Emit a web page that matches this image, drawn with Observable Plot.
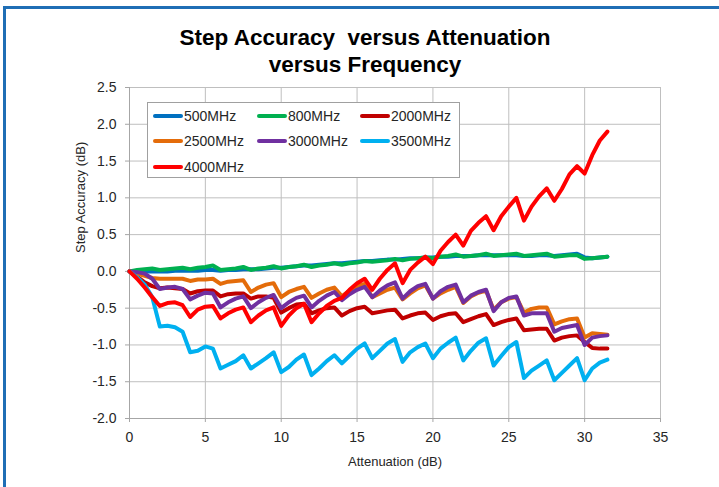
<!DOCTYPE html>
<html>
<head>
<meta charset="utf-8">
<script src="https://cdn.jsdelivr.net/npm/d3@7"></script>
<script src="https://cdn.jsdelivr.net/npm/@observablehq/plot@0.6"></script>
<style>
  html, body { margin: 0; padding: 0; background: #fff; }
  #wrap { position: relative; width: 719px; height: 487px; overflow: hidden; background: #fff;
          font-family: "Liberation Sans", Arial, sans-serif; }
  #bt { position: absolute; left: 3px; top: 6px; right: 0; height: 3px; background: #1F6EB5; }
  #bl { position: absolute; left: 3px; top: 6px; width: 3px; bottom: 0; background: #1F6EB5; }
  #title { position: absolute; left: 0; width: 730px; top: 24px; text-align: center;
           font-weight: bold; font-size: 22.5px; line-height: 27px; color: #000; white-space: pre; }
  #chart { position: absolute; left: 0; top: 0; }
  #legend { position: absolute; left: 147px; top: 102px; width: 313px; height: 76px;
            border: 1px solid #A0A0A0; background: #fff; box-sizing: border-box; }
  .item { position: absolute; height: 20px; display: flex; align-items: center;
          font-size: 14px; color: #262626; white-space: nowrap; }
  .swatch { width: 30px; height: 4px; border-radius: 2px; margin-right: 1px; }
</style>
</head>
<body>
<div id="wrap">
  <div id="bt"></div><div id="bl"></div>
  <div id="chart"></div>
  <div id="title">Step Accuracy  versus Attenuation
versus Frequency</div>
  <div id="legend"></div>
</div>
<script>
// ---- data ----
const atten = [0,0.5,1,1.5,2,2.5,3,3.5,4,4.5,5,5.5,6,6.5,7,7.5,8,8.5,9,9.5,10,10.5,11,11.5,12,12.5,13,13.5,14,14.5,15,15.5,
               16,16.5,17,17.5,18,18.5,19,19.5,20,20.5,21,21.5,22,22.5,23,23.5,24,24.5,25,25.5,26,26.5,27,27.5,28,28.5,29,29.5,30,30.5,31,31.5];
const seriesNames = ["500MHz","800MHz","2000MHz","2500MHz","3000MHz","3500MHz","4000MHz"];
const seriesColors = ["#0070C0","#00B050","#C00000","#E46C0A","#7030A0","#00B0F0","#FF0000"];

const v500 = [0,0,0,0,0,0,0.01,0.01,0.01,0.01,0.02,0.02,0.01,0.02,0.02,0.03,0.03,0.03,0.04,0.05,0.05,0.06,0.07,0.08,0.08,0.09,0.1,0.11,0.11,0.12,0.13,0.14,
              0.14,0.15,0.16,0.16,0.17,0.18,0.18,0.19,0.19,0.2,0.2,0.21,0.21,0.21,0.22,0.22,0.22,0.22,0.22,0.22,0.21,0.21,0.22,0.22,0.21,0.22,0.23,0.24,0.19,0.18,0.19,0.2];
const v800 = [0,0.02,0.03,0.04,0.02,0.03,0.04,0.05,0.03,0.05,0.06,0.08,0.02,0.03,0.04,0.06,0.02,0.04,0.05,0.07,0.04,0.06,0.07,0.09,0.06,0.08,0.09,0.11,0.09,0.11,0.12,0.14,
              0.13,0.14,0.15,0.17,0.15,0.17,0.18,0.19,0.18,0.2,0.21,0.23,0.2,0.21,0.22,0.24,0.21,0.22,0.23,0.24,0.21,0.22,0.23,0.24,0.2,0.21,0.22,0.22,0.17,0.18,0.19,0.2];
const v2000 = [0,-0.07,-0.15,-0.2,-0.23,-0.22,-0.23,-0.24,-0.3,-0.27,-0.26,-0.26,-0.34,-0.31,-0.3,-0.3,-0.37,-0.34,-0.34,-0.36,-0.56,-0.5,-0.45,-0.44,-0.57,-0.53,-0.5,-0.49,-0.6,-0.54,-0.5,-0.48,
               -0.57,-0.55,-0.53,-0.52,-0.64,-0.6,-0.57,-0.56,-0.66,-0.61,-0.58,-0.57,-0.69,-0.65,-0.61,-0.58,-0.73,-0.69,-0.66,-0.64,-0.8,-0.79,-0.78,-0.78,-0.94,-0.9,-0.88,-0.87,-0.96,-1.04,-1.05,-1.05];
const v2500 = [0,-0.03,-0.06,-0.09,-0.1,-0.1,-0.1,-0.1,-0.13,-0.11,-0.11,-0.1,-0.17,-0.14,-0.13,-0.12,-0.28,-0.22,-0.18,-0.16,-0.35,-0.28,-0.24,-0.21,-0.36,-0.3,-0.25,-0.22,-0.34,-0.26,-0.2,-0.17,
               -0.35,-0.3,-0.25,-0.22,-0.38,-0.3,-0.23,-0.19,-0.37,-0.3,-0.25,-0.21,-0.43,-0.34,-0.29,-0.26,-0.52,-0.42,-0.37,-0.35,-0.56,-0.51,-0.49,-0.49,-0.72,-0.68,-0.65,-0.64,-0.9,-0.84,-0.85,-0.86];
const v3000 = [0,-0.01,-0.03,-0.1,-0.24,-0.22,-0.21,-0.24,-0.38,-0.33,-0.29,-0.3,-0.49,-0.42,-0.37,-0.34,-0.5,-0.42,-0.36,-0.32,-0.5,-0.42,-0.36,-0.33,-0.49,-0.4,-0.33,-0.28,-0.39,-0.31,-0.25,-0.21,
               -0.35,-0.26,-0.19,-0.15,-0.37,-0.27,-0.2,-0.17,-0.37,-0.27,-0.21,-0.18,-0.42,-0.33,-0.28,-0.25,-0.54,-0.42,-0.36,-0.34,-0.6,-0.57,-0.57,-0.57,-0.82,-0.77,-0.75,-0.73,-1.0,-0.9,-0.88,-0.87];
const v3500 = [0,-0.08,-0.18,-0.35,-0.75,-0.74,-0.76,-0.82,-1.1,-1.08,-1.02,-1.05,-1.32,-1.27,-1.22,-1.14,-1.32,-1.25,-1.18,-1.1,-1.37,-1.3,-1.2,-1.13,-1.41,-1.32,-1.22,-1.14,-1.25,-1.15,-1.05,-0.98,
               -1.18,-1.08,-0.98,-0.92,-1.23,-1.1,-1.03,-0.98,-1.18,-1.05,-0.97,-0.9,-1.21,-1.08,-0.97,-0.91,-1.28,-1.15,-1.03,-0.96,-1.45,-1.35,-1.28,-1.21,-1.48,-1.38,-1.28,-1.18,-1.48,-1.32,-1.24,-1.2];
const v4000 = [0,-0.1,-0.22,-0.35,-0.47,-0.43,-0.42,-0.46,-0.62,-0.52,-0.48,-0.47,-0.64,-0.57,-0.52,-0.49,-0.69,-0.6,-0.53,-0.49,-0.74,-0.6,-0.5,-0.44,-0.69,-0.57,-0.47,-0.4,-0.36,-0.25,-0.16,-0.1,
               -0.25,-0.1,0.02,0.11,-0.16,0.02,0.12,0.2,0.1,0.28,0.4,0.5,0.35,0.55,0.66,0.75,0.56,0.75,0.88,1.0,0.69,0.88,1.02,1.13,0.96,1.12,1.32,1.43,1.33,1.58,1.78,1.9];

const xTicks = [0,5,10,15,20,25,30,35];
const yTicks = [-2,-1.5,-1,-0.5,0,0.5,1,1.5,2,2.5];
const xLabel = "Attenuation (dB)";
const yLabel = "Step Accuracy (dB)";

// ---- table ----
const seriesValues = [v500, v800, v2000, v2500, v3000, v3500, v4000];
const rows = [];
seriesNames.forEach((name, i) => {
  seriesValues[i].forEach((v, j) => rows.push({series: name, a: atten[j], v}));
});

const chart = Plot.plot({
  width: 719,
  height: 487,
  marginLeft: 129,
  marginRight: 59,
  marginTop: 87,
  marginBottom: 69,
  style: {fontFamily: "'Liberation Sans', Arial, sans-serif", fontSize: "14px", color: "#262626", background: "transparent", overflow: "visible"},
  x: {domain: [0, 35]},
  y: {domain: [-2, 2.5]},
  color: {domain: seriesNames, range: seriesColors},
  marks: [
    Plot.gridX(xTicks, {stroke: "#BFBFBF", strokeOpacity: 1}),
    Plot.gridY(yTicks, {stroke: "#BFBFBF", strokeOpacity: 1}),
    Plot.ruleX([0], {stroke: "#A6A6A6"}),
    Plot.ruleY([-2], {stroke: "#A6A6A6"}),
    Plot.axisX(xTicks, {tickSize: 4, tickPadding: 10, stroke: "#A6A6A6", fill: "#262626", label: null, tickFormat: d => String(d)}),
    Plot.axisY(yTicks, {tickSize: 4, tickPadding: 9, stroke: "#A6A6A6", fill: "#262626", label: null, tickFormat: d => d.toFixed(1)}),
    Plot.text([xLabel], {text: d => d, frameAnchor: "bottom", dy: 43, lineAnchor: "middle", fontSize: 13, fill: "#262626"}),
    Plot.text([yLabel], {text: d => d, frameAnchor: "left", dx: -49, rotate: -90, lineAnchor: "middle", fontSize: 13, fill: "#262626"}),
    Plot.line(rows, {x: "a", y: "v", z: "series", stroke: "series", strokeWidth: 4, strokeLinejoin: "round", strokeLinecap: "round"})
  ]
});
document.getElementById("chart").appendChild(chart);

// ---- legend ----
const legend = document.getElementById("legend");
const colX = [5, 109, 212];
const rowY = [3, 28, 54];
seriesNames.forEach((name, i) => {
  const it = document.createElement("div");
  it.className = "item";
  it.style.left = colX[i % 3] + "px";
  it.style.top = rowY[Math.floor(i / 3)] + "px";
  const sw = document.createElement("div");
  sw.className = "swatch";
  sw.style.background = seriesColors[i];
  const tx = document.createElement("span");
  tx.textContent = name;
  it.appendChild(sw); it.appendChild(tx);
  legend.appendChild(it);
});
</script>
</body>
</html>
